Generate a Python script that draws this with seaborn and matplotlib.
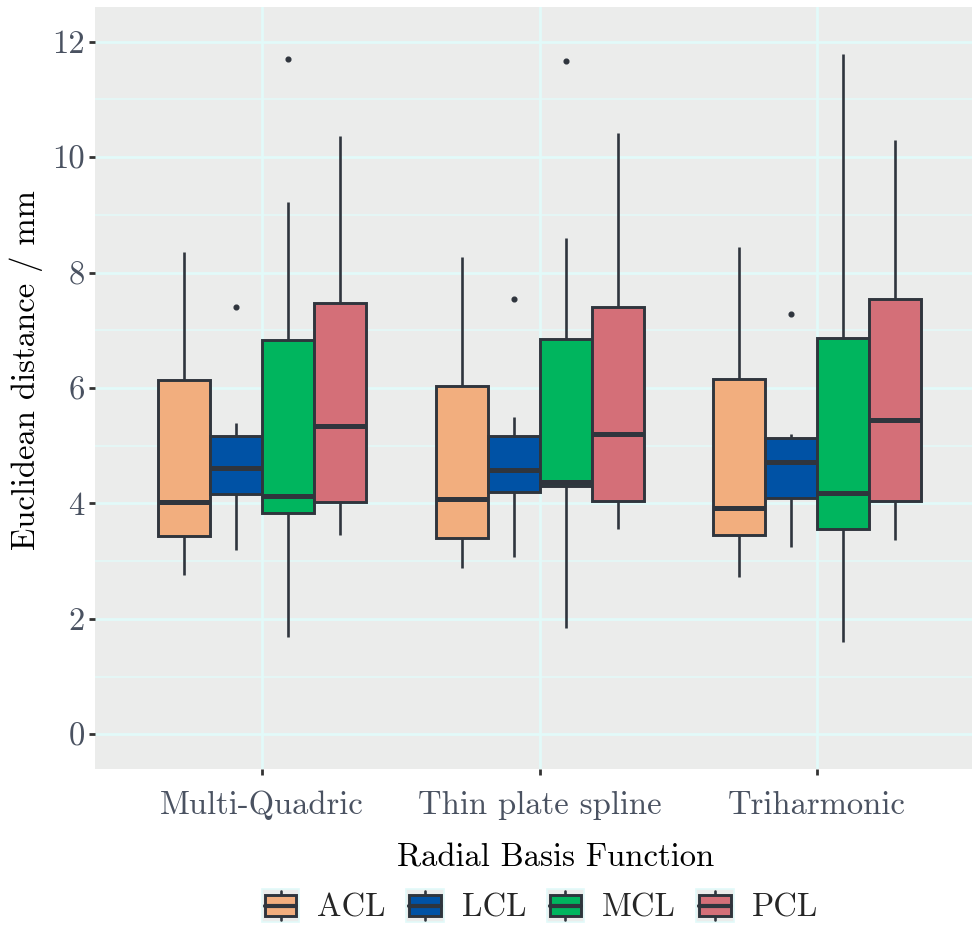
import numpy as np
import pandas as pd
import matplotlib
matplotlib.use("Agg")
import matplotlib.pyplot as plt
from matplotlib.patches import Rectangle
from matplotlib.lines import Line2D
from matplotlib.legend_handler import HandlerBase
import seaborn as sns

# ---- data (five-number summaries + outliers) ----
rbfs = ["Multi-Quadric", "Thin plate spline", "Triharmonic"]
ligaments = ["ACL", "LCL", "MCL", "PCL"]

# each list: ACL, LCL, MCL, PCL
mq_lo  = [2.76, 3.19, 1.69, 3.45]
mq_q1  = [3.44, 4.17, 3.83, 4.02]
mq_med = [4.02, 4.61, 4.13, 5.35]
mq_q3  = [6.13, 5.17, 6.83, 7.48]
mq_hi  = [8.35, 5.40, 9.23, 10.37]
mq_out = [None, 7.41, 11.70, None]

tps_lo  = [2.89, 3.07, 1.84, 3.56]
tps_q1  = [3.40, 4.19, 4.30, 4.05]
tps_med = [4.07, 4.58, 4.37, 5.21]
tps_q3  = [6.04, 5.17, 6.85, 7.40]
tps_hi  = [8.27, 5.49, 8.60, 10.42]
tps_out = [None, 7.54, 11.66, None]

th_lo  = [2.73, 3.25, 1.60, 3.37]
th_q1  = [3.45, 4.09, 3.56, 4.05]
th_med = [3.92, 4.71, 4.18, 5.45]
th_q3  = [6.16, 5.13, 6.86, 7.54]
th_hi  = [8.45, 5.21, 11.79, 10.29]
th_out = [None, 7.29, None, None]

y_ticks = [0, 2, 4, 6, 8, 10, 12]
y_ticklabels = ["0", "2", "4", "6", "8", "10", "12"]

colors = ["#F2AE7E", "#0052A5", "#00B55E", "#D46F78"]
edge = "#2F353D"

summaries = {
    "Multi-Quadric": (mq_lo, mq_q1, mq_med, mq_q3, mq_hi, mq_out),
    "Thin plate spline": (tps_lo, tps_q1, tps_med, tps_q3, tps_hi, tps_out),
    "Triharmonic": (th_lo, th_q1, th_med, th_q3, th_hi, th_out),
}

# build sample sets that reproduce the read summaries exactly (n = 9)
rows = []
for rbf in rbfs:
    lo, q1, med, q3, hi, out = summaries[rbf]
    for i, lig in enumerate(ligaments):
        last = out[i] if out[i] is not None else hi[i]
        vals = [lo[i], q1[i], q1[i], med[i], med[i], q3[i], q3[i], hi[i], last]
        for v in vals:
            rows.append({"rbf": rbf, "lig": lig, "dist": v})
df = pd.DataFrame(rows)

# ---- style ----
sns.set_theme(style="darkgrid")
plt.rcParams["font.family"] = ["cmr10", "DejaVu Serif"]
plt.rcParams["axes.formatter.use_mathtext"] = True

FS = 23.5
grid_c = "#E2FAF9"

fig = plt.figure(figsize=(9.72, 9.25), dpi=100)
ax = fig.add_axes([95 / 972, 1 - 769 / 925, 877 / 972, (769 - 7) / 925])
ax.set_facecolor("#EBECEB")

sns.boxplot(
    data=df, x="rbf", y="dist", hue="lig", order=rbfs, hue_order=ligaments,
    palette=colors, saturation=1, width=0.75, gap=0, dodge=True,
    linewidth=2.1, linecolor=edge, showcaps=False, whis=1.5,
    medianprops=dict(linewidth=3.6, color=edge),
    whiskerprops=dict(linewidth=1.9, color=edge),
    flierprops=dict(marker="o", markersize=3.4, markerfacecolor=edge,
                    markeredgecolor=edge),
    ax=ax, legend=False,
)

ax.set_xlim(-0.602, 2.558)
ax.set_ylim(-0.6, 12.6)
ax.set_yticks(y_ticks)
ax.set_yticklabels(y_ticklabels)
ax.set_yticks([1, 3, 5, 7, 9, 11], minor=True)
ax.set_axisbelow(True)
ax.grid(which="major", axis="both", color=grid_c, linewidth=2.0)
ax.grid(which="minor", axis="y", color=grid_c, linewidth=1.1)
ax.grid(which="minor", axis="x", visible=False)
for s in ax.spines.values():
    s.set_visible(False)

ax.tick_params(axis="both", which="major", length=4.5, width=2.0, color="#333333",
               labelsize=FS, labelcolor="#4A5261", pad=3, bottom=True, left=True)
ax.tick_params(axis="x", which="major", pad=11)
ax.tick_params(axis="both", which="minor", length=0)
ax.set_xlabel("")
ax.set_ylabel("Euclidean distance / mm", fontsize=FS, color="black", labelpad=6.5)
ax.yaxis.label.set_y((769 - 370) / 762)


class BoxHandler(HandlerBase):
    def __init__(self, fc):
        super().__init__()
        self.fc = fc

    def create_artists(self, legend, orig_handle, xdescent, ydescent, width,
                       height, fontsize, trans):
        x0, y0 = -xdescent, -ydescent
        bg = Rectangle((x0, y0), width, height,
                       facecolor="#EBECEB", edgecolor=grid_c, lw=1.2, transform=trans)
        cx = x0 + width / 2
        vl = Line2D([cx, cx], [y0 + 1, y0 + height - 1],
                    color=edge, lw=1.9, transform=trans)
        bw = width * 0.84
        bh = height * 0.66
        box = Rectangle((cx - bw / 2, y0 + (height - bh) / 2), bw, bh,
                        facecolor=self.fc, edgecolor=edge, lw=2.1, transform=trans)
        my = y0 + height / 2
        ml = Line2D([cx - bw / 2, cx + bw / 2], [my, my], color=edge, lw=3.0,
                    transform=trans)
        return [bg, vl, box, ml]


handles = [Rectangle((0, 0), 1, 1, facecolor=c) for c in colors]
handler_map = {h: BoxHandler(c) for h, c in zip(handles, colors)}
leg = fig.legend(handles, ligaments, handler_map=handler_map, ncol=4,
                 loc="center", bbox_to_anchor=(540 / 972, 1 - 906 / 925),
                 frameon=False, fontsize=FS,
                 handlelength=1.15, handleheight=1.15,
                 handletextpad=0.55, columnspacing=0.62, borderpad=0.0)
fig.text(556 / 972, 1 - 858 / 925, "Radial Basis Function", fontsize=FS,
         ha="center", va="center", color="black")

fig.savefig("out.png", dpi=100)
